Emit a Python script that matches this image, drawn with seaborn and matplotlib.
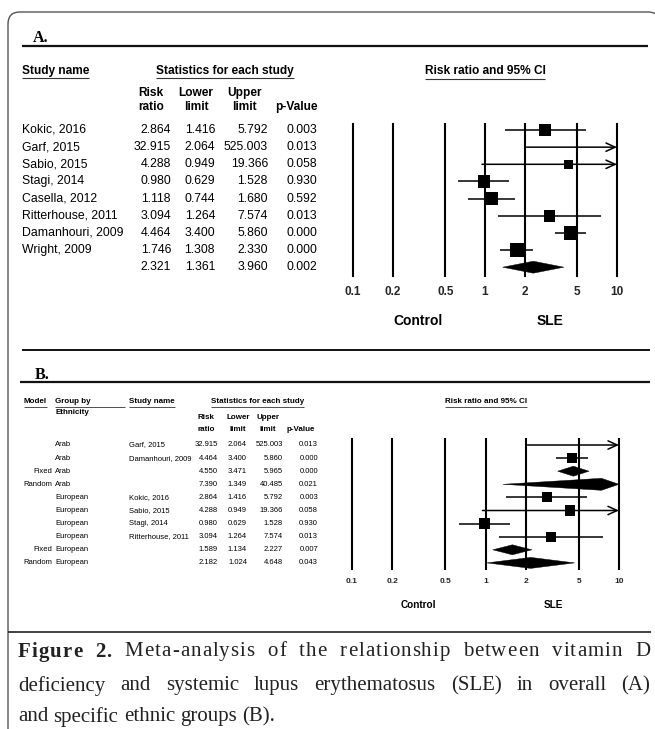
import numpy as np
import pandas as pd
import matplotlib
matplotlib.use("Agg")
import matplotlib.pyplot as plt
import seaborn as sns
from matplotlib import transforms
from matplotlib.lines import Line2D
from matplotlib.patches import Polygon, PathPatch
from matplotlib.path import Path

# ---------------- data ----------------
studies_a = ["Kokic, 2016", "Garf, 2015", "Sabio, 2015", "Stagi, 2014", "Casella, 2012",
             "Ritterhouse, 2011", "Damanhouri, 2009", "Wright, 2009", ""]
rr_a = [2.864, 32.915, 4.288, 0.980, 1.118, 3.094, 4.464, 1.746, 2.321]
lo_a = [1.416, 2.064, 0.949, 0.629, 0.744, 1.264, 3.400, 1.308, 1.361]
hi_a = [5.792, 525.003, 19.366, 1.528, 1.680, 7.574, 5.860, 2.330, 3.960]
p_a = [0.003, 0.013, 0.058, 0.930, 0.592, 0.013, 0.000, 0.000, 0.002]
kind_a = ["study"] * 8 + ["pooled"]
weight_a = [12, 5, 8.5, 12.5, 13, 11.5, 13.5, 14.5, 0]

model_b = ["", "", "Fixed", "Random", "", "", "", "", "Fixed", "Random"]
group_b = ["Arab", "Arab", "Arab", "Arab", "European", "European", "European",
           "European", "European", "European"]
studies_b = ["Garf, 2015", "Damanhouri, 2009", "", "", "Kokic, 2016", "Sabio, 2015",
             "Stagi, 2014", "Ritterhouse, 2011", "", ""]
rr_b = [32.915, 4.464, 4.550, 7.390, 2.864, 4.288, 0.980, 3.094, 1.589, 2.182]
lo_b = [2.064, 3.400, 3.471, 1.349, 1.416, 0.949, 0.629, 1.264, 1.134, 1.024]
hi_b = [525.003, 5.860, 5.965, 40.485, 5.792, 19.366, 1.528, 7.574, 2.227, 4.648]
p_b = [0.013, 0.000, 0.000, 0.021, 0.003, 0.058, 0.930, 0.013, 0.007, 0.043]
kind_b = ["study", "study", "pooled", "pooled", "study", "study", "study", "study",
          "pooled", "pooled"]
weight_b = [9, 9.5, 0, 0, 10, 10.2, 10.5, 9.8, 0, 0]

ticks = [0.1, 0.2, 0.5, 1, 2, 5, 10]
tick_labels = ["0.1", "0.2", "0.5", "1", "2", "5", "10"]

caption_1 = "Figure 2. Meta-analysis of the relationship between vitamin D"
caption_2 = "deficiency and systemic lupus erythematosus (SLE) in overall (A)"
caption_3 = "and specific ethnic groups (B)."

# ---------------- setup ----------------
W, H = 655, 729
sns.set_theme(style="white")
plt.rcParams["font.family"] = ["Liberation Sans", "DejaVu Sans"]
SERIF = ["Liberation Serif", "DejaVu Serif"]

fig = plt.figure(figsize=(W / 100, H / 100), dpi=100)
fig.patch.set_facecolor("white")
PX = transforms.Affine2D().scale(1 / W, -1 / H).translate(0, 1) + fig.transFigure
renderer = fig.canvas.get_renderer()


def txt(x, y, s, size, ha="left", weight="normal", family=None, va="center", color="black"):
    kw = dict(transform=PX, fontsize=size, ha=ha, va=va, fontweight=weight, color=color)
    if family is not None:
        kw["family"] = family
    return fig.text(x, y, s, **kw)


def hline(x0, x1, y, lw, color="black"):
    fig.add_artist(Line2D([x0, x1], [y, y], transform=PX, lw=lw, color=color,
                          solid_capstyle="butt"))


def underline(t, y=None, x1=None, lw=0.8, color="#333333"):
    bb = t.get_window_extent(renderer)
    yy = (H - bb.y0) + 0.5 if y is None else y
    hline(bb.x0, bb.x1 if x1 is None else x1, yy, lw, color)


# frame: left edge + top edge with rounded corners
R = 12
verts = [(8, H + 5), (8, 12 + R), (8, 12), (8 + R, 12), (648, 12), (648 + R, 12),
         (648 + R, 12 + R)]
codes = [Path.MOVETO, Path.LINETO, Path.CURVE3, Path.CURVE3, Path.LINETO, Path.CURVE3,
         Path.CURVE3]
fig.add_artist(PathPatch(Path(verts, codes), transform=PX, fill=False, lw=1.0,
                         edgecolor="#555555"))


def forest(box, rr, lo, hi, kind, weight, row0, step, halfh, tsize, tpad, lw_grid, lw_ci):
    left, top, right, bottom = box
    ax = fig.add_axes([left / W, 1 - bottom / H, (right - left) / W, (bottom - top) / H])
    ax.patch.set_alpha(0)
    ylo = (top - row0) / step
    yhi = (bottom - row0) / step
    xmax = ticks[-1]
    ax.vlines(ticks, yhi, ylo, colors="black", lw=lw_grid, zorder=1, clip_on=False)
    rows = []
    for i, (r, l, h, k, w) in enumerate(zip(rr, lo, hi, kind, weight)):
        if k == "study":
            if h > xmax:
                ax.annotate("", xy=(xmax, i), xytext=(l, i), zorder=2,
                            arrowprops=dict(arrowstyle="->,head_length=0.55,head_width=0.25",
                                            lw=lw_ci, color="black", shrinkA=0, shrinkB=0))
            else:
                ax.hlines(i, l, h, colors="black", lw=lw_ci, zorder=2)
            rows.append((r, i, (w * 0.72) ** 2))
        else:
            hh = halfh[i] / step
            tip = min(h, xmax)
            poly = Polygon([(l, i), (r, i - hh), (tip, i), (r, i + hh)], closed=True,
                           facecolor="black", edgecolor="black", lw=0.3, zorder=3)
            ax.add_patch(poly)
    df = pd.DataFrame(rows, columns=["rr", "row", "area"])
    sns.scatterplot(data=df, x="rr", y="row", size="area",
                    sizes={a: a for a in df["area"]}, marker="s", color="black",
                    linewidth=0, legend=False, ax=ax, zorder=4)
    ax.set_xscale("log")
    ax.set_xlim(ticks[0], xmax)
    ax.set_ylim(yhi, ylo)
    for s in ax.spines.values():
        s.set_visible(False)
    ax.set_xticks(ticks)
    ax.set_xticklabels(tick_labels, fontweight="bold", fontsize=tsize)
    ax.minorticks_off()
    ax.tick_params(axis="x", length=0, pad=tpad)
    ax.set_yticks([])
    ax.set_xlabel("")
    ax.set_ylabel("")
    ax.grid(False)
    return ax


# ---------------- panel A ----------------
txt(33, 38, "A.", 11.5, weight="bold", family=SERIF)
hline(22, 648, 46, 1.6, "#111111")

t = txt(22, 71, "Study name", 8.6, weight="bold")
underline(t, y=78)
t = txt(225, 71, "Statistics for each study", 8.6, ha="center", weight="bold")
underline(t, y=78)
t = txt(485, 71, "Risk ratio and 95% CI", 8.6, ha="center", weight="bold")
underline(t, y=79)
for cx, l1, l2 in [(151, "Risk", "ratio"), (196, "Lower", "limit"), (244, "Upper", "limit")]:
    txt(cx, 93, l1, 8.6, ha="center", weight="bold")
    txt(cx, 107, l2, 8.6, ha="center", weight="bold")
txt(296, 107, "p-Value", 8.6, ha="center", weight="bold")

ROW0_A, STEP_A = 130, 17.15
for i in range(len(rr_a)):
    y = ROW0_A + i * STEP_A
    txt(22, y, studies_a[i], 8.8)
    txt(171, y, f"{rr_a[i]:.3f}", 8.8, ha="right")
    txt(215, y, f"{lo_a[i]:.3f}", 8.8, ha="right")
    txt(268, y, f"{hi_a[i]:.3f}", 8.8, ha="right")
    txt(317, y, f"{p_a[i]:.3f}", 8.8, ha="right")

forest((353, 123, 617, 277), rr_a, lo_a, hi_a, kind_a, weight_a, ROW0_A, STEP_A,
       [0] * 8 + [6], 8.5, 6.5, 1.5, 1.1)
txt(418, 321, "Control", 10, ha="center", weight="bold")
txt(550, 321, "SLE", 10, ha="center", weight="bold")

hline(22, 650, 350, 1.4, "#111111")

# ---------------- panel B ----------------
txt(35, 375, "B.", 11.5, weight="bold", family=SERIF)
hline(20, 650, 382, 1.6, "#111111")

FB = 5.8
t = txt(24, 402, "Model", FB, weight="bold")
underline(t, y=407, lw=0.6)
t = txt(55, 402, "Group by", FB, weight="bold")
underline(t, y=407, x1=125, lw=0.6)
txt(55, 412.5, "Ethnicity", FB, weight="bold")
t = txt(129, 402, "Study name", FB, weight="bold")
underline(t, y=407, lw=0.6)
t = txt(257.5, 402, "Statistics for each study", FB, ha="center", weight="bold")
underline(t, y=407, lw=0.6)
t = txt(486, 402, "Risk ratio and 95% CI", FB, ha="center", weight="bold")
underline(t, y=407, lw=0.6)
for cx, l1, l2 in [(206, "Risk", "ratio"), (238, "Lower", "limit"), (268, "Upper", "limit")]:
    txt(cx, 418, l1, FB, ha="center", weight="bold")
    txt(cx, 430, l2, FB, ha="center", weight="bold")
txt(301, 430, "p-Value", FB, ha="center", weight="bold")

ROW0_B, STEP_B = 445, 13.1
FN = 5.5
for i in range(len(rr_b)):
    y = ROW0_B + i * STEP_B
    if model_b[i]:
        txt(52, y, model_b[i], FN, ha="right")
    txt(55, y, group_b[i], FN)
    if studies_b[i]:
        txt(129, y, studies_b[i], FN)
    txt(218, y, f"{rr_b[i]:.3f}", FN, ha="right")
    txt(247, y, f"{lo_b[i]:.3f}", FN, ha="right")
    txt(283, y, f"{hi_b[i]:.3f}", FN, ha="right")
    txt(318, y, f"{p_b[i]:.3f}", FN, ha="right")

forest((352, 438, 619, 570), rr_b, lo_b, hi_b, kind_b, weight_b, ROW0_B, STEP_B,
       [0, 0, 5, 6, 0, 0, 0, 0, 5, 5.5], 6.0, 6, 1.5, 1.1)
txt(418, 605, "Control", 7.2, ha="center", weight="bold")
txt(553, 605, "SLE", 7.2, ha="center", weight="bold")

hline(8, 651, 632, 1.2, "#222222")


# ---------------- caption ----------------
def justify(line, y, x0, x1, size, bold_n=0, just=True, track=0.0):
    words = line.split(" ")
    groups = []
    for k, w in enumerate(words):
        weight = "bold" if k < bold_n else "normal"
        if track > 0:
            chars = [txt(0, y, c, size, weight=weight, family=SERIF, color="#222222")
                     for c in w]
        else:
            chars = [txt(0, y, w, size, weight=weight, family=SERIF, color="#222222")]
        cw = [c.get_window_extent(renderer).width for c in chars]
        width = sum(cw) + track * (len(chars) - 1)
        groups.append((chars, cw, width))
    total = sum(g[2] for g in groups)
    if just:
        gap = (x1 - x0 - total) / (len(words) - 1)
    else:
        gap = size * 100 / 72 * 0.25
    x = x0
    for chars, cw, width in groups:
        cx = x
        for c, w in zip(chars, cw):
            c.set_position((cx, y))
            cx += w + track
        x += width + gap


justify(caption_1, 652, 18, 650, 15, bold_n=2, track=1.0)
justify(caption_2, 686, 18, 650, 15)
justify(caption_3, 717, 18, 650, 15, just=False)

fig.savefig("out.png", dpi=100, facecolor="white")
